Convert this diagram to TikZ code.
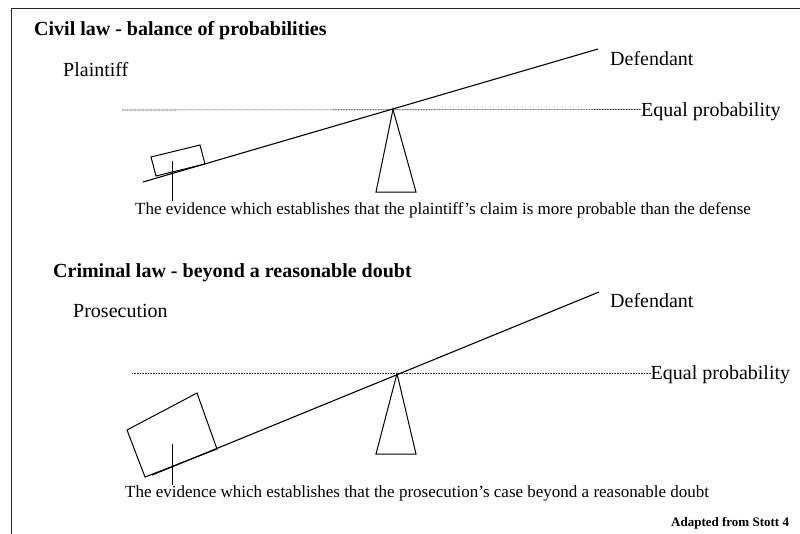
\documentclass[tikz,border=0pt]{standalone}
\usepackage{fontspec}
\setmainfont{Liberation Serif}
\begin{document}
\begin{tikzpicture}[x=1pt,y=-1pt,
  lbl/.style={anchor=base west,inner sep=0pt,font=\fontsize{20}{22}\selectfont},
  ttl/.style={anchor=base west,inner sep=0pt,font=\fontsize{20}{22}\selectfont\bfseries},
  note/.style={anchor=base west,inner sep=0pt,font=\fontsize{17}{19}\selectfont},
  beam/.style={line width=1.1pt},
  thin/.style={line width=1pt},
  level/.style={line width=0.6pt,dash pattern=on 1pt off 0.6pt,black!80},
  frame/.style={line width=1pt,black!85}]
\useasboundingbox (0,0) rectangle (800,533);
% frame
\draw[frame] (11.5,540) -- (11.5,8.5) -- (805,8.5);

% ---------- Civil law ----------
\node[ttl] (t1) at (34,35) {Civil law - balance of probabilities};
\node[lbl] (pl) at (63,76) {Plaintiff};
\node[lbl] (d1) at (610,65) {Defendant};
\node[lbl] (e1) at (641,116) {Equal probability};
\node[note] (n1) at (135,214) {The evidence which establishes that the plaintiff’s claim is more probable than the defense};
\coordinate (l1) at (122,110);
\coordinate (p1) at (393,109.5);
\coordinate (b1a) at (143,182);
\coordinate (b1b) at (598,49);
\draw[level] (l1) -- (e1.west |- p1);
\draw[beam] (b1a) -- (b1b);
\draw[thin] (p1) -- (376,192) -- (416,192) -- cycle;
\draw[thin] (151,157) -- (200,145) -- (205,164) -- (156,176) -- cycle;
\coordinate (q1a) at (172.7,161);
\coordinate (q1b) at (172.7,201);
\draw[thin] (q1a) -- (q1b);

% ---------- Criminal law ----------
\node[ttl] (t2) at (53,277) {Criminal law - beyond a reasonable doubt};
\node[lbl] (pr) at (73,317) {Prosecution};
\node[lbl] (d2) at (610,307) {Defendant};
\node[lbl] (e2) at (650.5,379) {Equal probability};
\node[note] (n2) at (125,497) {The evidence which establishes that the prosecution’s case beyond a reasonable doubt};
\coordinate (l2) at (132,373.5);
\coordinate (p2) at (397,373.5);
\coordinate (b2a) at (152,475);
\coordinate (b2b) at (599,292);
\draw[level] (l2) -- (e2.west |- p2);
\draw[beam] (b2a) -- (b2b);
\draw[thin] (p2) -- (376,454) -- (416,454) -- cycle;
\draw[thin] (127,430) -- (197,393) -- (217,449) -- (145,477) -- cycle;
\coordinate (q2a) at (172.7,444);
\coordinate (q2b) at (172.7,485);
\draw[thin] (q2a) -- (q2b);

\node[anchor=base west,inner sep=0pt,font=\fontsize{13}{15}\selectfont\bfseries] (src) at (671,526) {Adapted from Stott 4};
\end{tikzpicture}
\end{document}
